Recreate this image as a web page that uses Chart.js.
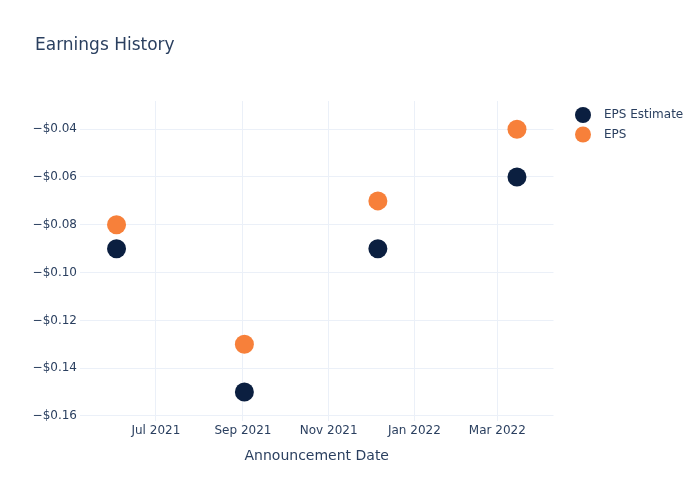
<!DOCTYPE html>
<html>
<head>
<meta charset="utf-8">
<script src="https://cdn.jsdelivr.net/npm/chart.js@4.4.1/dist/chart.umd.min.js"></script>
<style>
  html, body { margin: 0; padding: 0; background: #fff; }
  #wrap { width: 700px; height: 500px; }
</style>
</head>
<body>
<div id="wrap"><canvas id="chart" width="700" height="500"></canvas></div>
<script>
// announcement dates and values
const dates = ["2021-06-03", "2021-09-02", "2021-12-06", "2022-03-15"];
const epsEstimate = [-0.09, -0.15, -0.09, -0.06];
const eps = [-0.08, -0.13, -0.07, -0.04];

const xTickDates = ["2021-07-01", "2021-09-01", "2021-11-01", "2022-01-01", "2022-03-01"];
const xTickLabels = ["Jul 2021", "Sep 2021", "Nov 2021", "Jan 2022", "Mar 2022"];
const yTicks = [-0.16, -0.14, -0.12, -0.1, -0.08, -0.06, -0.04];

const xRange = ["2021-05-08", "2022-04-10"];
const yRange = [-0.1621, -0.0282];

const DAY = 86400000;
const toDay = (s) => Date.parse(s + "T00:00:00Z") / DAY;

const textColor = "#2a3f5f";
const gridColor = "#ebf0f8";
const font = "'DejaVu Sans', Verdana, sans-serif";

const navy = "#0b1f40";
const orange = "#f7803a";

const fmtMoney = (v) => (v < 0 ? "\u2212" : "") + "$" + Math.abs(v).toFixed(2);

const labelFor = {};
xTickDates.forEach((d, i) => { labelFor[toDay(d)] = xTickLabels[i]; });

// title and legend, laid out like the reference
const decorations = {
  id: "decorations",
  afterDraw(chart) {
    const ctx = chart.ctx;
    ctx.save();
    ctx.fillStyle = textColor;
    ctx.textBaseline = "middle";
    ctx.textAlign = "left";
    ctx.font = "17px " + font;
    ctx.fillText("Earnings History", 35, 46);

    ctx.font = "12px " + font;
    chart.data.datasets.forEach((ds, i) => {
      const y = 115 + i * 19.5;
      ctx.beginPath();
      ctx.arc(583, y, 8, 0, Math.PI * 2);
      ctx.fillStyle = ds.backgroundColor;
      ctx.fill();
      ctx.fillStyle = textColor;
      ctx.fillText(ds.label, 604, y);
    });
    ctx.restore();
  }
};

new Chart(document.getElementById("chart"), {
  type: "scatter",
  data: {
    datasets: [
      {
        label: "EPS Estimate",
        data: dates.map((d, i) => ({ x: toDay(d), y: epsEstimate[i] })),
        backgroundColor: navy,
        borderColor: navy,
        pointRadius: 9.5,
        pointHoverRadius: 9.5,
        borderWidth: 0
      },
      {
        label: "EPS",
        data: dates.map((d, i) => ({ x: toDay(d), y: eps[i] })),
        backgroundColor: orange,
        borderColor: orange,
        pointRadius: 9.5,
        pointHoverRadius: 9.5,
        borderWidth: 0
      }
    ]
  },
  options: {
    responsive: false,
    animation: false,
    layout: { padding: { left: 0, top: 101, right: 146.5, bottom: 0 } },
    plugins: {
      legend: { display: false },
      title: { display: false },
      tooltip: { enabled: false }
    },
    scales: {
      x: {
        type: "linear",
        min: toDay(xRange[0]),
        max: toDay(xRange[1]),
        afterBuildTicks: (scale) => {
          scale.ticks = xTickDates.map((d) => ({ value: toDay(d) }));
        },
        afterFit: (scale) => { scale.height = 79; },
        grid: { color: gridColor, drawTicks: false },
        border: { display: false },
        ticks: {
          color: textColor,
          font: { family: font, size: 12 },
          padding: 3,
          maxRotation: 0,
          autoSkip: false,
          callback: (v) => labelFor[v] || ""
        },
        title: {
          display: true,
          text: "Announcement Date",
          color: textColor,
          font: { family: font, size: 14 },
          padding: { top: 0, bottom: 35 }
        }
      },
      y: {
        min: yRange[0],
        max: yRange[1],
        afterBuildTicks: (scale) => {
          scale.ticks = yTicks.map((v) => ({ value: v }));
        },
        afterFit: (scale) => { scale.width = 80; },
        grid: { color: gridColor, drawTicks: false },
        border: { display: false },
        ticks: {
          color: textColor,
          font: { family: font, size: 12 },
          padding: 3,
          autoSkip: false,
          callback: (v) => fmtMoney(v)
        }
      }
    }
  },
  plugins: [decorations]
});
</script>
</body>
</html>
